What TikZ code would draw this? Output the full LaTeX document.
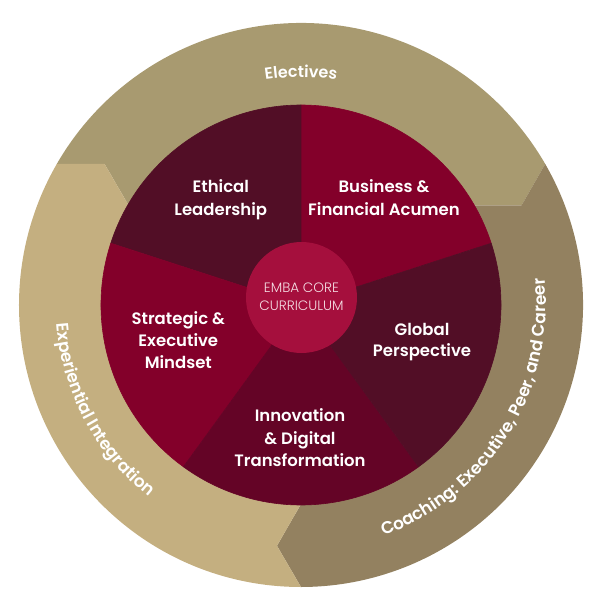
\documentclass[tikz,border=0pt]{standalone}
\usepackage{fontspec}
\setmainfont{Poppins}
\newfontfamily\labfont{Poppins SemiBold}
\newfontfamily\corefont{Poppins Light}
\usetikzlibrary{decorations.text}
\definecolor{elecC}{RGB}{168,154,112}
\definecolor{coachC}{RGB}{147,129,96}
\definecolor{expC}{RGB}{196,175,128}
\definecolor{darkW}{RGB}{82,14,38}
\definecolor{redW}{RGB}{131,0,42}
\definecolor{innoW}{RGB}{100,4,38}
\definecolor{coreC}{RGB}{165,15,61}
\definecolor{coreT}{RGB}{245,222,228}
\tikzset{
  lab/.style={font=\labfont\fontsize{16.5}{20}\selectfont, text=white, anchor=base, inner sep=0pt},
  coretext/.style={font=\corefont\fontsize{13.6}{16}\selectfont, text=coreT, anchor=base, inner sep=0pt},
  arctext/.style 2 args={decorate, decoration={text along path, text align=center, text color=white, text={|\labfont\fontsize{#1}{#1}\selectfont|#2}}},
  wedge/.style={fill=#1, draw=#1, line width=0.6pt, line join=round}
}
\newcommand\ringseg[3]{%
  \fill[#3] (#1:282pt) arc[start angle=#1,end angle=#2,radius=282pt]
    -- ({#2-5.7}:242pt) -- (#2:199pt) arc[start angle=#2,end angle=#1,radius=199pt]
    -- ({#1-5.7}:242pt) -- cycle;}
\begin{document}
\begin{tikzpicture}[x=1pt,y=1pt]
\useasboundingbox (-301pt,-295pt) rectangle (299pt,305pt);
% outer ring segments
\ringseg{150}{30}{elecC}
\ringseg{30}{-90}{coachC}
\ringseg{270}{150}{expC}
% pie wedges
\path[wedge=redW]  (0,0) -- (18:200pt) arc[start angle=18,end angle=90,radius=200pt] -- cycle;
\path[wedge=darkW] (0,0) -- (90:200pt) arc[start angle=90,end angle=162,radius=200pt] -- cycle;
\path[wedge=redW]  (0,0) -- (162:200pt) arc[start angle=162,end angle=234,radius=200pt] -- cycle;
\path[wedge=innoW] (0,0) -- (234:200pt) arc[start angle=234,end angle=306,radius=200pt] -- cycle;
\path[wedge=darkW] (0,0) -- (306:200pt) arc[start angle=306,end angle=378,radius=200pt] -- cycle;
% core
\fill[coreC] (0.5pt,7.5pt) circle[radius=55.5pt];
\node[coretext] (core1) at (0.5pt,12.3pt) {EMBA CORE};
\node[coretext] (core2) at (0.5pt,-5pt) {CURRICULUM};
% wedge labels
\node[lab] (eth1) at (-80.2pt,112.3pt) {Ethical};
\node[lab] (eth2) at (-80.2pt,90pt) {Leadership};
\node[lab] (bus1) at (83pt,112.3pt) {Business \&};
\node[lab] (bus2) at (83pt,90pt) {Financial Acumen};
\node[lab] (str1) at (-122.7pt,-19pt) {Strategic \&};
\node[lab] (str2) at (-122.7pt,-41.7pt) {Executive};
\node[lab] (str3) at (-122.7pt,-63.3pt) {Mindset};
\node[lab] (glo1) at (121pt,-30pt) {Global};
\node[lab] (glo2) at (121pt,-51.7pt) {Perspective};
\node[lab] (inn1) at (-1pt,-116.7pt) {Innovation};
\node[lab] (inn2) at (-1pt,-139.3pt) {\& Digital};
\node[lab] (inn3) at (-1pt,-161.7pt) {Transformation};
% ring texts
\path[arctext={16}{Electives}] (125:228pt) arc[start angle=125,end angle=55,radius=228pt];
\path[arctext={17}{Coaching: Executive, Peer, and Career}] (-85:245pt) arc[start angle=-85,end angle=21,radius=245pt];
\path[arctext={17}{Experiential Integration}] (175:245pt) arc[start angle=175,end angle=241,radius=245pt];
\end{tikzpicture}
\end{document}
